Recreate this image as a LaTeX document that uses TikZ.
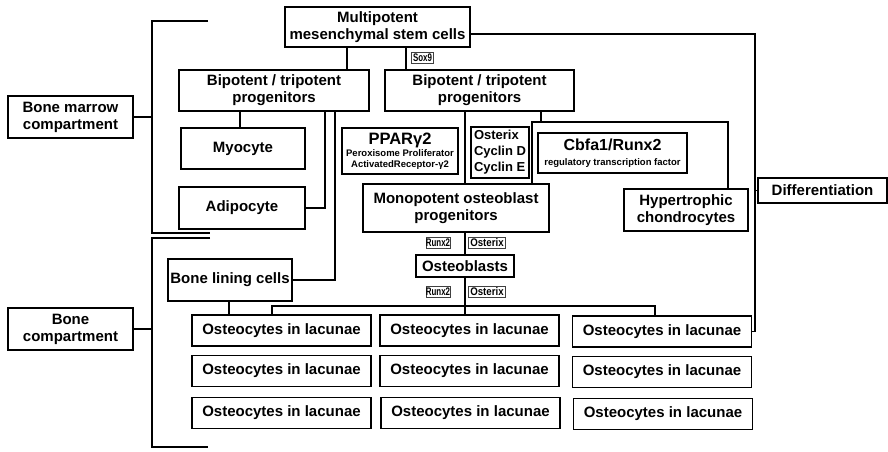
\documentclass[tikz,border=0pt]{standalone}
\usepackage{fontspec}
\setmainfont{Liberation Sans}
\newfontfamily\tagfont{Liberation Sans}[FakeStretch=0.72, UprightFont=* Bold]
\newfontfamily\tagwfont{Liberation Sans}[FakeStretch=0.88, UprightFont=* Bold]
\begin{document}
\begin{tikzpicture}[x=1pt,y=-1pt,
  box/.style={draw, line width=1.6pt, inner sep=0pt, align=center, font=\bfseries\fontsize{15}{17}\selectfont},
  smallbox/.style={box, font=\bfseries\fontsize{9.5}{11}\selectfont},
  ocy/.style={box, minimum width=179pt, minimum height=31pt},
  tag/.style={draw=black!75, line width=0.8pt, inner sep=0pt, font=\tagfont\fontsize{11}{11}\selectfont},
  tagw/.style={tag, font=\tagwfont\fontsize{11}{11}\selectfont},
  ln/.style={line width=1.6pt}]
\useasboundingbox (0,0) rectangle (888,451);
% boxes
\node[box, minimum width=185pt, minimum height=40pt] (msc) at (377.5,27) {Multipotent\\mesenchymal stem cells};
\node[box, minimum width=190pt, minimum height=41pt] (bpl) at (274,90.5) {Bipotent / tripotent\\progenitors};
\node[box, minimum width=189pt, minimum height=41pt] (bpr) at (479.5,90.5) {Bipotent / tripotent\\progenitors};
\node[box, minimum width=124pt, minimum height=41pt] (myo) at (243,148.5) {Myocyte};
\node[box, minimum width=126pt, minimum height=42pt] (adi) at (242,208) {Adipocyte};
\node[smallbox, minimum width=116pt, minimum height=46pt] (ppar) at (400,151) {\fontsize{16.5}{13}\selectfont PPARγ2\\[1.5pt]Peroxisome Proliferator\\ActivatedReceptor-γ2};
\node[box, minimum width=58pt, minimum height=51pt, align=left, font=\bfseries\fontsize{13}{16}\selectfont] (ost) at (500,152.5) {Osterix\\Cyclin D\\Cyclin E};
\node[smallbox, minimum width=149pt, minimum height=40pt, font=\bfseries\fontsize{9.5}{15}\selectfont] (cbfa) at (612.5,153) {\fontsize{16}{15}\selectfont Cbfa1/Runx2\\regulatory transcription factor};
\node[box, minimum width=186pt, minimum height=48pt] (mono) at (456,208) {Monopotent osteoblast\\progenitors};
\node[box, minimum width=124pt, minimum height=42pt] (hyp) at (686,210) {Hypertrophic\\chondrocytes};
\node[box, minimum width=129pt, minimum height=25pt] (diff) at (822.5,190.5) {Differentiation};
\node[box, minimum width=125pt, minimum height=42pt] (bmc) at (70.5,117) {Bone marrow\\compartment};
\node[box, minimum width=125pt, minimum height=42pt] (bc) at (70.5,329) {Bone\\compartment};
\node[box, minimum width=124pt, minimum height=42pt] (blc) at (230,280) {Bone lining cells};
\node[box, minimum width=98pt, minimum height=22pt] (obl) at (465,266) {Osteoblasts};
% osteocytes
\node[ocy] (o11) at (281.5,330.5) {Osteocytes in lacunae};
\node[ocy] (o12) at (469.5,330.5) {Osteocytes in lacunae};
\node[ocy] (o13) at (662,331.5) {Osteocytes in lacunae};
\node[ocy] (o21) at (281.5,371) {Osteocytes in lacunae};
\node[ocy] (o22) at (469.5,371) {Osteocytes in lacunae};
\node[ocy] (o23) at (662,372) {Osteocytes in lacunae};
\node[ocy] (o31) at (281.5,413) {Osteocytes in lacunae};
\node[ocy] (o32) at (470.5,413) {Osteocytes in lacunae};
\node[ocy] (o33) at (663,414) {Osteocytes in lacunae};
% tags
\node[tag, minimum width=22pt, minimum height=11pt] (sox) at (422.5,58) {Sox9};
\node[tag, minimum width=24pt, minimum height=11pt] (r1) at (438,243) {Runx2};
\node[tagw, minimum width=37pt, minimum height=11pt] (x1) at (487,243) {Osterix};
\node[tag, minimum width=24pt, minimum height=11pt] (r2) at (438,292) {Runx2};
\node[tagw, minimum width=37pt, minimum height=11pt] (x2) at (487,292) {Osterix};
% brackets
\coordinate (bt1) at (208,21);
\coordinate (bb1) at (210,233);
\coordinate (bt2) at (210,238);
\coordinate (bb2) at (208,447);
\draw[ln] (bt1) -- (152,21) -- (152,233) -- (bb1);
\draw[ln] (bt2) -- (152,238) -- (152,447) -- (bb2);
\draw[ln] (bmc.east) -- (152,0 |- bmc.east);
\draw[ln] (bc.east) -- (152,0 |- bc.east);
% connectors
\draw[ln] (347,0 |- msc.south) -- (347,0 |- bpl.north);
\draw[ln] (406,0 |- msc.south) -- (406,0 |- bpr.north);
\draw[ln] (msc.east |- 0,34) -| (755,0 |- o13.east) -- (o13.east);
\draw[ln] (755,0 |- diff.west) -- (diff.west);
\draw[ln] (240,0 |- bpl.south) -- (240,0 |- myo.north);
\draw[ln] (325,0 |- bpl.south) |- (adi.east);
\draw[ln] (335,0 |- bpl.south) |- (blc.east);
\draw[ln] (541,0 |- bpr.south) -- (541,122);
\draw[ln] (532,0 |- mono.north) |- (728,122) -- (728,0 |- hyp.north);
\draw[ln] (465,0 |- bpr.south) -- (465,0 |- mono.north);
\draw[ln] (465,0 |- mono.south) -- (obl.north);
\draw[ln] (obl.south) -- (465,0 |- o12.north);
\draw[ln] (272,0 |- o11.north) |- (655,306) -- (655,0 |- o13.north);
\draw[ln] (229,0 |- blc.south) -- (229,0 |- o11.north);
\end{tikzpicture}
\end{document}
